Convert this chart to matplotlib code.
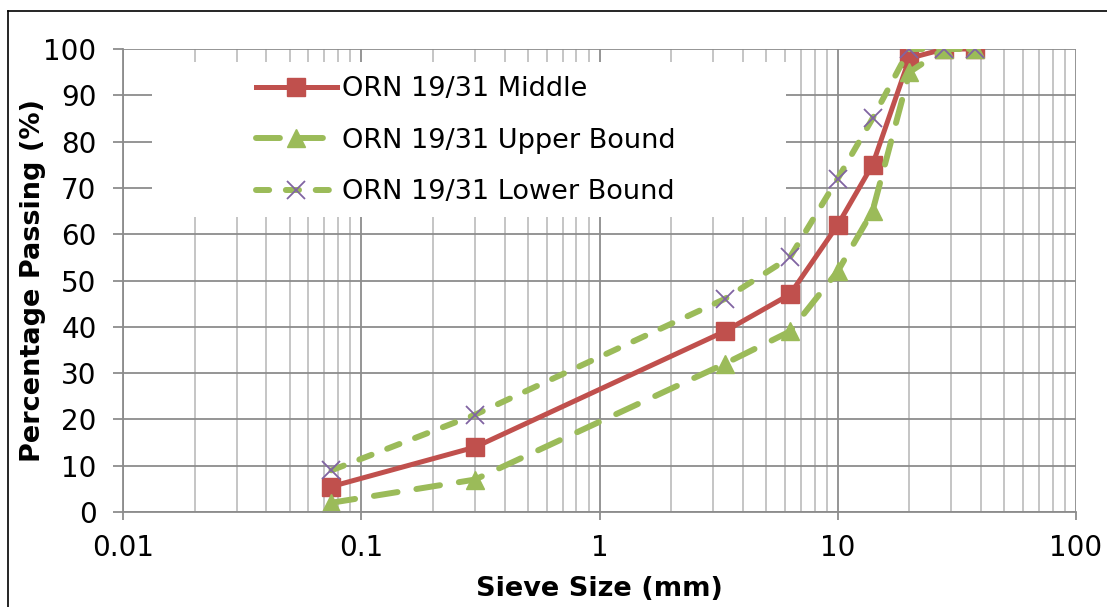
import numpy as np
import matplotlib
matplotlib.use('Agg')
import matplotlib.pyplot as plt
from matplotlib.patches import Rectangle
from matplotlib.lines import Line2D
from matplotlib.ticker import LogLocator, FixedLocator, NullFormatter

# sieve sizes (mm) and percentage passing
sieve = [0.075, 0.3, 3.35, 6.3, 10, 14, 20, 28, 37.5]
middle = [5.5, 14, 39, 47, 62, 75, 98, 100, 100]
upper = [2, 7, 32, 39, 52, 65, 95, 100, 100]
lower = [9, 21, 46, 55, 72, 85, 100, 100, 100]

red = '#C0504D'
green = '#9BBB59'
purple = '#8064A2'
grid_major = '#8C8C8C'
grid_minor = '#C0C0C0'

plt.rcParams['font.family'] = 'DejaVu Sans'

fig = plt.figure(figsize=(11.07, 6.07), dpi=100)
ax = fig.add_axes([123/1107, 1 - 512/607, 953/1107, 463/607])

ax.plot(sieve, middle, color=red, lw=3.6, marker='s', ms=13,
        mfc=red, mec=red, label='ORN 19/31 Middle', zorder=2)
ax.plot(sieve, upper, color=green, lw=4.3, marker='^', ms=13,
        mfc=green, mec=green, dashes=(4, 3.2), dash_capstyle='round',
        label='ORN 19/31 Upper Bound', zorder=2.1)
ax.plot(sieve, lower, color=green, lw=4.3, marker='x', ms=13,
        mec=purple, mew=1.3, dashes=(2.2, 2.8), dash_capstyle='round',
        label='ORN 19/31 Lower Bound', zorder=2.2)

ax.set_xscale('log')
ax.set_xlim(0.01, 100)
ax.set_ylim(0, 100)
ax.set_yticks(np.arange(0, 101, 10))
ax.xaxis.set_major_locator(FixedLocator([0.01, 0.1, 1, 10, 100]))
ax.xaxis.set_major_formatter(plt.FuncFormatter(lambda v, p: '%g' % v))
ax.xaxis.set_minor_locator(LogLocator(base=10, subs=np.arange(2, 10), numticks=20))
ax.xaxis.set_minor_formatter(NullFormatter())

ax.set_axisbelow(True)
ax.grid(which='major', color=grid_major, lw=1.3)
ax.grid(which='minor', axis='x', color=grid_minor, lw=1.3)

for s in ['top', 'right']:
    ax.spines[s].set_visible(False)
for s in ['left', 'bottom']:
    ax.spines[s].set_color(grid_major)
    ax.spines[s].set_linewidth(1.3)

ax.tick_params(axis='x', which='major', length=6, width=1.3, color=grid_major,
               labelsize=20, pad=10)
ax.tick_params(axis='x', which='minor', length=0)
ax.tick_params(axis='y', length=7, width=1.3, color=grid_major,
               labelsize=20, pad=12)

ax.set_xlabel('Sieve Size (mm)', fontsize=19.5, fontweight='bold', labelpad=10)
ax.set_ylabel('Percentage Passing (%)', fontsize=19.5, fontweight='bold', labelpad=-2)

# white legend box covering the grid
ax.add_patch(Rectangle((0.030, 0.637), 0.666, 0.335, transform=ax.transAxes,
                       facecolor='white', edgecolor='none', zorder=1))
leg = ax.legend(loc='upper left', bbox_to_anchor=(0.128, 0.965), frameon=False,
                fontsize=19.5, handlelength=3.0, handletextpad=0.2,
                labelspacing=0.95, borderaxespad=0)
for h in leg.get_lines():
    h.set_dash_capstyle('round')

# outer chart border (left and top only visible)
fig.add_artist(Line2D([8/1107, 8/1107], [0, 1 - 11/607], color='black', lw=1.2))
fig.add_artist(Line2D([8/1107, 1], [1 - 11/607, 1 - 11/607], color='black', lw=1.2))

fig.savefig('out.png', dpi=100)
